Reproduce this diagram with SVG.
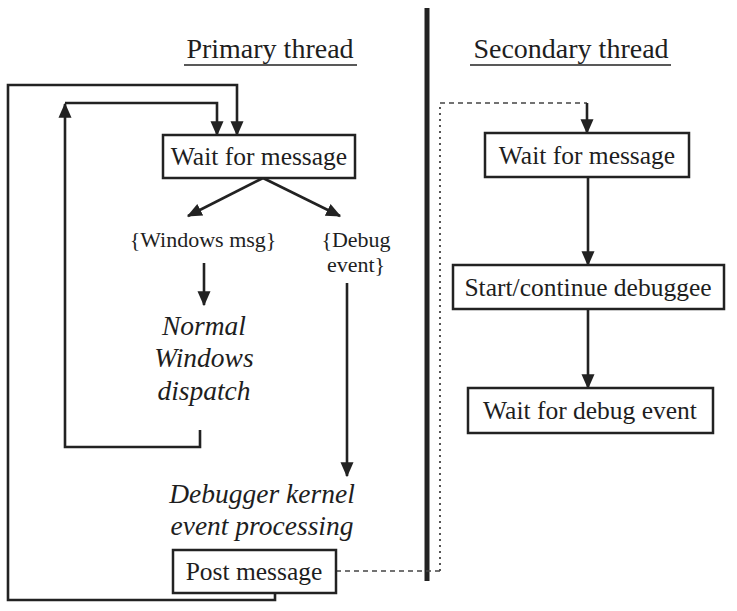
<svg xmlns="http://www.w3.org/2000/svg" width="737" height="611" viewBox="0 0 737 611">
<defs>
<marker id="ah" viewBox="0 0 12 12" refX="11" refY="6" markerWidth="15" markerHeight="15" orient="auto" markerUnits="userSpaceOnUse">
<path d="M0,0.8 L12,6 L0,11.2 z" fill="#222"/>
</marker>
</defs>
<style>
.t{fill:#1e1e1e;text-anchor:middle}
.box{font-size:25.5px}
.lbl{font-size:22px}
.it{font-size:27.5px;font-style:italic}
.ttl{font-size:28px}
.bx{fill:#fff;stroke:#222;stroke-width:2.5}
.arr{fill:none;stroke:#222;stroke-width:2.6;marker-end:url(#ah)}
.dash{fill:none;stroke:#444;stroke-width:1.6;stroke-dasharray:5,4}
.dot{fill:none;stroke:#444;stroke-width:1.8;stroke-dasharray:2,4}
</style>
<rect width="737" height="611" fill="#fff"/>
<g id="divider"><line x1="427" y1="8" x2="427" y2="581" stroke="#222" stroke-width="5"/></g>
<g font-family="'Liberation Serif', 'Times New Roman', 'DejaVu Serif', serif">
<g id="title-primary"><text class="t ttl" x="270" y="58">Primary thread</text><line x1="184" y1="65" x2="357" y2="65" stroke="#222" stroke-width="1.5"/></g>
<g id="title-secondary"><text class="t ttl" x="571" y="58">Secondary thread</text><line x1="470" y1="65" x2="671" y2="65" stroke="#222" stroke-width="1.5"/></g>
</g>
<g id="connectors">
<path class="arr" d="M275,593 L275,600 L8,600 L8,85 L237,85 L237,135"/>
<path class="arr" d="M200,430 L200,447 L65,447 L65,104"/>
<path class="arr" d="M65,103 L217,103 L217,135"/>
<path class="arr" d="M263,178 L188,216"/>
<path class="arr" d="M263,178 L340,216"/>
<path class="arr" d="M204,263 L204,305"/>
<path class="arr" d="M347,283 L347,476"/>
<path class="dash" d="M336,571 L440,571"/>
<path class="dot" d="M440,571 L440,103"/>
<path class="dash" d="M440,103 L587,103"/>
<path class="arr" d="M587,103 L587,133"/>
<path class="arr" d="M588,177 L588,265"/>
<path class="arr" d="M588,309 L588,388"/>
</g>
<g font-family="'Liberation Serif', 'Times New Roman', 'DejaVu Serif', serif">
<g id="wait-primary"><rect class="bx" x="163" y="135" width="192" height="43"/><text class="t box" x="259" y="165">Wait for message</text></g>
<g id="windows-msg"><text class="t lbl" x="203" y="247">{Windows msg}</text></g>
<g id="debug-event"><text class="t lbl" x="356" y="247">{Debug</text><text class="t lbl" x="356" y="272">event}</text></g>
<g id="normal-dispatch"><text class="t it" x="204" y="335">Normal</text><text class="t it" x="204" y="367">Windows</text><text class="t it" x="204" y="400">dispatch</text></g>
<g id="kernel-processing"><text class="t it" x="262" y="503">Debugger kernel</text><text class="t it" x="262" y="535">event processing</text></g>
<g id="post-message"><rect class="bx" x="173" y="550" width="163" height="43"/><text class="t box" x="254" y="580">Post message</text></g>
<g id="wait-secondary"><rect class="bx" x="485" y="133" width="204" height="44"/><text class="t box" x="587" y="164">Wait for message</text></g>
<g id="start-continue"><rect class="bx" x="453" y="265" width="271" height="44"/><text class="t box" x="588" y="296">Start/continue debuggee</text></g>
<g id="wait-debug"><rect class="bx" x="468" y="388" width="245" height="45"/><text class="t box" x="590" y="419">Wait for debug event</text></g>
</g>
</svg>
